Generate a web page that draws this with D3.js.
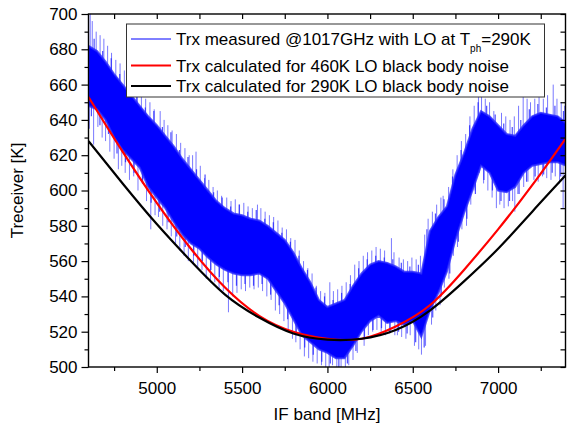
<!DOCTYPE html>
<html>
<head>
<meta charset="utf-8">
<script src="https://cdn.jsdelivr.net/npm/d3@7"></script>
<style>
  body { margin: 0; background: #fff; }
  text { font-family: Arial, "Liberation Sans", sans-serif; }
</style>
</head>
<body>
<svg id="chart" width="567" height="429"></svg>
<script>
// measured Trx band, every 50 MHz (upper / lower edge of the dense trace)
const bandFreq = [4600, 4650, 4700, 4750, 4800, 4850, 4900, 4950, 5000, 5050, 5100, 5150, 5200, 5250,
  5300, 5350, 5400, 5450, 5500, 5550, 5600, 5650, 5700, 5750, 5800, 5850, 5900, 5950, 6000, 6050,
  6100, 6150, 6200, 6250, 6300, 6350, 6400, 6450, 6500, 6550, 6600, 6650, 6700, 6750, 6800, 6850,
  6900, 6950, 7000, 7050, 7100, 7150, 7200, 7250, 7300, 7350, 7400]
const bandTop = [682, 679, 673, 666, 660, 654, 648, 642, 637, 631, 625, 618, 612, 606,
  600, 594, 590, 587, 586, 584, 583, 580, 576, 572, 565, 556, 548, 538, 534, 536,
  538, 546, 553, 558, 560, 559, 557, 554, 554, 553, 577, 585, 591, 609, 621, 635,
  645, 642, 637, 632, 631, 637, 642, 644, 643, 642, 638]
const bandLow = [648, 646, 640, 630, 623, 618, 613, 602, 596, 590, 582, 575, 570, 567,
  562, 558, 555, 553, 552, 552, 553, 550, 543, 536, 527, 518, 514, 510, 508, 505,
  505, 512, 520, 526, 529, 525, 526, 524, 526, 517, 532, 542, 554, 572, 587, 600,
  614, 610, 600, 599, 602, 610, 614, 615, 616, 616, 614]

// single noise spikes of the measured trace (frequency, value)
const spikeFreq = [
  4610, 4622, 4645, 4668, 4690, 4712, 4735, 4760, 4785, 4605, 4630, 4655, 4680, 4700, 4725, 4750, 4775, 4795,
  4810, 4835, 4860, 4885, 4910, 4935, 4960, 4985, 4815, 4840, 4865, 4890, 4915, 4940, 4965, 4990,
  5020, 5043, 5065, 5090, 5115, 5140, 5165, 5190, 5010, 5035, 5060, 5085, 5110, 5135, 5160, 5185,
  5210, 5230, 5255, 5280, 5305, 5330, 5355, 5380, 5215, 5240, 5265, 5290, 5315, 5340, 5365, 5390,
  5410, 5435, 5460, 5485, 5510, 5535, 5560, 5590, 5420, 5445, 5470, 5495, 5520, 5545, 5570, 5595,
  5610, 5635, 5660, 5685, 5710, 5735, 5760, 5785, 5620, 5645, 5670, 5695, 5720, 5745, 5770, 5795,
  5810, 5835, 5860, 5885, 5910, 5935, 5960, 5985, 5815, 5840, 5865, 5890, 5915, 5940, 5965, 5990,
  6014, 6035, 6060, 6085, 6110, 6135, 6160, 6185, 6010, 6030, 6055, 6080, 6105, 6125, 6150, 6175,
  6210, 6235, 6260, 6285, 6310, 6335, 6375, 6390, 6215, 6240, 6265, 6290, 6315, 6340, 6365, 6395,
  6420, 6445, 6470, 6495, 6520, 6545, 6570, 6590, 6410, 6435, 6460, 6485, 6510, 6535, 6551, 6575,
  6615, 6640, 6665, 6678, 6710, 6735, 6760, 6785, 6610, 6635, 6660, 6685, 6712, 6738, 6762, 6788,
  6810, 6835, 6860, 6885, 6903, 6925, 6950, 6975, 6815, 6840, 6865, 6890, 6915, 6940, 6965, 6990,
  7020, 7045, 7070, 7095, 7120, 7147, 7170, 7190, 7010, 7035, 7060, 7085, 7098, 7125, 7150, 7175,
  7215, 7240, 7265, 7290, 7323, 7345, 7370, 7390, 7210, 7235, 7260, 7285, 7310, 7335, 7360, 7381]
const spikeVal = [
  700, 696, 690, 688, 686, 682, 678, 674, 672, 635, 626, 636, 630, 628, 622, 618, 612, 614,
  668, 664, 663, 658, 656, 652, 650, 646, 610, 606, 608, 600, 604, 594, 578, 586,
  645, 640, 637, 634, 632, 627, 624, 620, 585, 580, 578, 574, 570, 566, 563, 560,
  620, 622, 614, 607, 606, 602, 600, 597, 558, 556, 555, 550, 548, 548, 544, 543,
  596, 594, 595, 592, 593, 591, 590, 592, 531, 540, 542, 544, 543, 545, 544, 545,
  590, 588, 586, 585, 583, 579, 578, 573, 543, 540, 538, 532, 530, 526, 520, 516,
  572, 566, 560, 556, 553, 546, 543, 542, 514, 510, 506, 505, 503, 502, 501, 500,
  548, 543, 544, 546, 548, 552, 558, 560, 500, 501, 500, 499, 500, 501, 504, 508,
  563, 565, 566, 568, 567, 566, 573, 565, 512, 518, 520, 521, 520, 518, 519, 518,
  562, 561, 560, 562, 561, 563, 575, 584, 518, 517, 516, 518, 512, 510, 507, 512,
  588, 592, 596, 597, 602, 612, 620, 628, 524, 532, 535, 545, 550, 563, 568, 578,
  632, 642, 648, 655, 660, 652, 650, 645, 580, 592, 600, 610, 604, 600, 596, 590,
  644, 642, 640, 642, 648, 662, 652, 650, 592, 590, 591, 594, 588, 598, 602, 605,
  652, 654, 652, 654, 660, 652, 650, 648, 606, 605, 608, 607, 606, 608, 604, 590]

// shorter fringe spikes just outside the dense band (upper then lower side)
const fringeUpFreq = [4633, 4683, 4733, 4783, 4833, 4883, 4933, 4983, 5033, 5083, 5133, 5183, 5233, 5283,
  5333, 5383, 5433, 5483, 5533, 5583, 5633, 5683, 5733, 5783, 5833, 5883, 5933, 5983, 6033, 6083,
  6133, 6183, 6233, 6283, 6333, 6383, 6433, 6483, 6533, 6583, 6633, 6683, 6733, 6783, 6833, 6883,
  6933, 6983, 7033, 7083, 7133, 7183, 7233, 7283, 7333, 7383]
const fringeUpVal = [686, 679, 675, 666, 661, 656, 647, 645, 636, 633, 623, 619, 612, 609,
  599, 596, 591, 592, 588, 589, 584, 582, 576, 571, 563, 555, 545, 540, 538, 542,
  547, 556, 561, 563, 562, 561, 559, 557, 558, 578, 587, 595, 608, 623, 637, 650,
  648, 643, 638, 636, 640, 646, 649, 647, 648, 645]
const fringeLowFreq = [4617, 4667, 4717, 4767, 4817, 4867, 4917, 4967, 5017, 5067, 5117, 5167, 5217, 5267,
  5317, 5367, 5417, 5467, 5517, 5567, 5617, 5667, 5717, 5767, 5817, 5867, 5917, 5967, 6017, 6067,
  6117, 6167, 6217, 6267, 6317, 6367, 6417, 6467, 6517, 6567, 6617, 6667, 6717, 6767, 6817, 6867,
  6917, 6967, 7017, 7067, 7117, 7167, 7217, 7267, 7317, 7367]
const fringeLowVal = [642, 637, 632, 621, 616, 610, 604, 593, 588, 582, 574, 568, 563, 560,
  555, 551, 548, 546, 547, 546, 547, 541, 535, 527, 518, 511, 507, 503, 502, 500,
  502, 509, 516, 521, 522, 520, 520, 519, 514, 511, 528, 540, 553, 571, 584, 598,
  606, 600, 594, 594, 598, 605, 608, 609, 610, 608]

// calculated curves, read every 200 MHz
const curveFreq = [4600, 4800, 5000, 5200, 5400, 5600, 5800, 6000, 6200, 6400, 6600, 6800, 7000, 7200, 7400]
const trx460 = [653, 622, 593, 567, 545, 529, 520, 516, 516, 523, 535, 555, 578, 603, 630]
const trx290 = [628, 604, 581, 560, 541, 528, 519, 515.5, 516, 521, 532, 548.5, 567, 588, 609]

const xMajor = [5000, 5500, 6000, 6500, 7000]
const xMinor = [4750, 5250, 5750, 6250, 6750, 7250]
const xTop = [4750, 5000, 5250, 5500, 5750, 6000, 6250, 6500, 6750, 7000, 7250]
const yMajor = [500, 520, 540, 560, 580, 600, 620, 640, 660, 680, 700]
const yMinor = [510, 530, 550, 570, 590, 610, 630, 650, 670, 690]

const legendRows = [
  {name: "Trx measured @1017GHz with LO at T", sub: "ph", after: "=290K", color: "#0000ff", w: 1},
  {name: "Trx calculated for 460K LO black body noise", color: "#ff0000", w: 2},
  {name: "Trx calculated for 290K LO black body noise", color: "#000000", w: 2}
]

const box = {left: 88.5, right: 565.5, top: 14, bottom: 367}

const svg = d3.select("#chart")

const x = d3.scaleLinear().domain([4600, 7395]).range([box.left, box.right])
const y = d3.scaleLinear().domain([500, 700]).range([box.bottom, box.top])

svg.append("clipPath").attr("id", "clip")
  .append("rect").attr("x", box.left).attr("y", box.top)
  .attr("width", box.right - box.left).attr("height", box.bottom - box.top)
const plot = svg.append("g").attr("clip-path", "url(#clip)")

// measured trace: spikes first, dense band on top
const mid = d3.scaleLinear().domain(bandFreq).range(bandFreq.map((f, i) => (bandTop[i] + bandLow[i]) / 2))

function spikes(freqs, vals, width, opacity) {
  plot.append("g").selectAll("line")
    .data(freqs)
    .join("line")
    .attr("x1", d => x(d))
    .attr("x2", d => x(d))
    .attr("y1", d => y(mid(d)))
    .attr("y2", (d, i) => y(vals[i]))
    .attr("stroke", "#2020ff")
    .attr("stroke-opacity", opacity)
    .attr("stroke-width", width)
}
spikes(spikeFreq, spikeVal, 1, 0.6)
spikes(fringeUpFreq, fringeUpVal, 1.2, 0.8)
spikes(fringeLowFreq, fringeLowVal, 1.2, 0.8)

const band = bandFreq.map((f, i) => ({f: f, hi: bandTop[i], lo: bandLow[i]}))
plot.append("path")
  .datum(band)
  .attr("fill", "#0000ff")
  .attr("stroke", "#2a2aff")
  .attr("stroke-opacity", 0.8)
  .attr("stroke-width", 2)
  .attr("d", d3.area().x(d => x(d.f)).y0(d => y(d.lo)).y1(d => y(d.hi)))

const line = d3.line().x(d => x(d[0])).y(d => y(d[1])).curve(d3.curveNatural)
plot.append("path")
  .datum(curveFreq.map((f, i) => [f, trx460[i]]))
  .attr("fill", "none").attr("stroke", "#ff0000").attr("stroke-width", 2.2)
  .attr("d", line)
plot.append("path")
  .datum(curveFreq.map((f, i) => [f, trx290[i]]))
  .attr("fill", "none").attr("stroke", "#000000").attr("stroke-width", 2.2)
  .attr("d", line)

// axes
function styleAxis(g) {
  g.select(".domain").remove()
  g.selectAll(".tick line").attr("stroke", "#000").attr("stroke-width", 1.2)
  g.selectAll(".tick text").attr("fill", "#000").style("font-size", "17px")
}

svg.append("g").attr("transform", `translate(0,${box.bottom})`)
  .call(d3.axisBottom(x).tickValues(xMajor).tickSize(6).tickPadding(9).tickFormat(d3.format("d")))
  .call(styleAxis)
svg.append("g").attr("transform", `translate(0,${box.bottom})`)
  .call(d3.axisBottom(x).tickValues(xMinor).tickSize(4).tickFormat(""))
  .call(styleAxis)
svg.append("g").attr("transform", `translate(0,${box.top})`)
  .call(d3.axisBottom(x).tickValues(xTop).tickSize(5).tickFormat(""))
  .call(styleAxis)

svg.append("g").attr("transform", `translate(${box.left},0)`)
  .call(d3.axisLeft(y).tickValues(yMajor).tickSize(7).tickPadding(4).tickFormat(d3.format("d")))
  .call(styleAxis)
svg.append("g").attr("transform", `translate(${box.left},0)`)
  .call(d3.axisLeft(y).tickValues(yMinor).tickSize(4).tickFormat(""))
  .call(styleAxis)
svg.append("g").attr("transform", `translate(${box.right},0)`)
  .call(d3.axisRight(y).tickValues(yMajor.concat(yMinor)).tickSize(-5).tickFormat(""))
  .call(styleAxis)

svg.append("rect")
  .attr("x", box.left).attr("y", box.top)
  .attr("width", box.right - box.left).attr("height", box.bottom - box.top)
  .attr("fill", "none").attr("stroke", "#000").attr("stroke-width", 1.4)

// axis titles
svg.append("text")
  .attr("x", (box.left + box.right) / 2).attr("y", 420)
  .attr("text-anchor", "middle").style("font-size", "17px")
  .text("IF band [MHz]")
svg.append("text")
  .attr("transform", `translate(23,${(box.top + box.bottom) / 2}) rotate(-90)`)
  .attr("text-anchor", "middle").style("font-size", "17px")
  .text("Treceiver [K]")

// legend
const legend = svg.append("g")
legend.append("rect")
  .attr("x", 126.5).attr("y", 24).attr("width", 418).attr("height", 73)
  .attr("fill", "#fff").attr("stroke", "#333").attr("stroke-width", 1)
const rowY = [39, 65.5, 86]
legendRows.forEach((r, i) => {
  legend.append("line")
    .attr("x1", 131).attr("x2", 171).attr("y1", rowY[i]).attr("y2", rowY[i])
    .attr("stroke", r.color).attr("stroke-width", r.w)
  const t = legend.append("text")
    .attr("x", 176).attr("y", rowY[i] + 6)
    .style("font-size", "17px")
    .text(r.name)
  if (r.sub) {
    t.append("tspan").attr("dy", 7).style("font-size", "10px").text(r.sub)
    t.append("tspan").attr("dy", -7).text(r.after)
  }
})
</script>
</body>
</html>
